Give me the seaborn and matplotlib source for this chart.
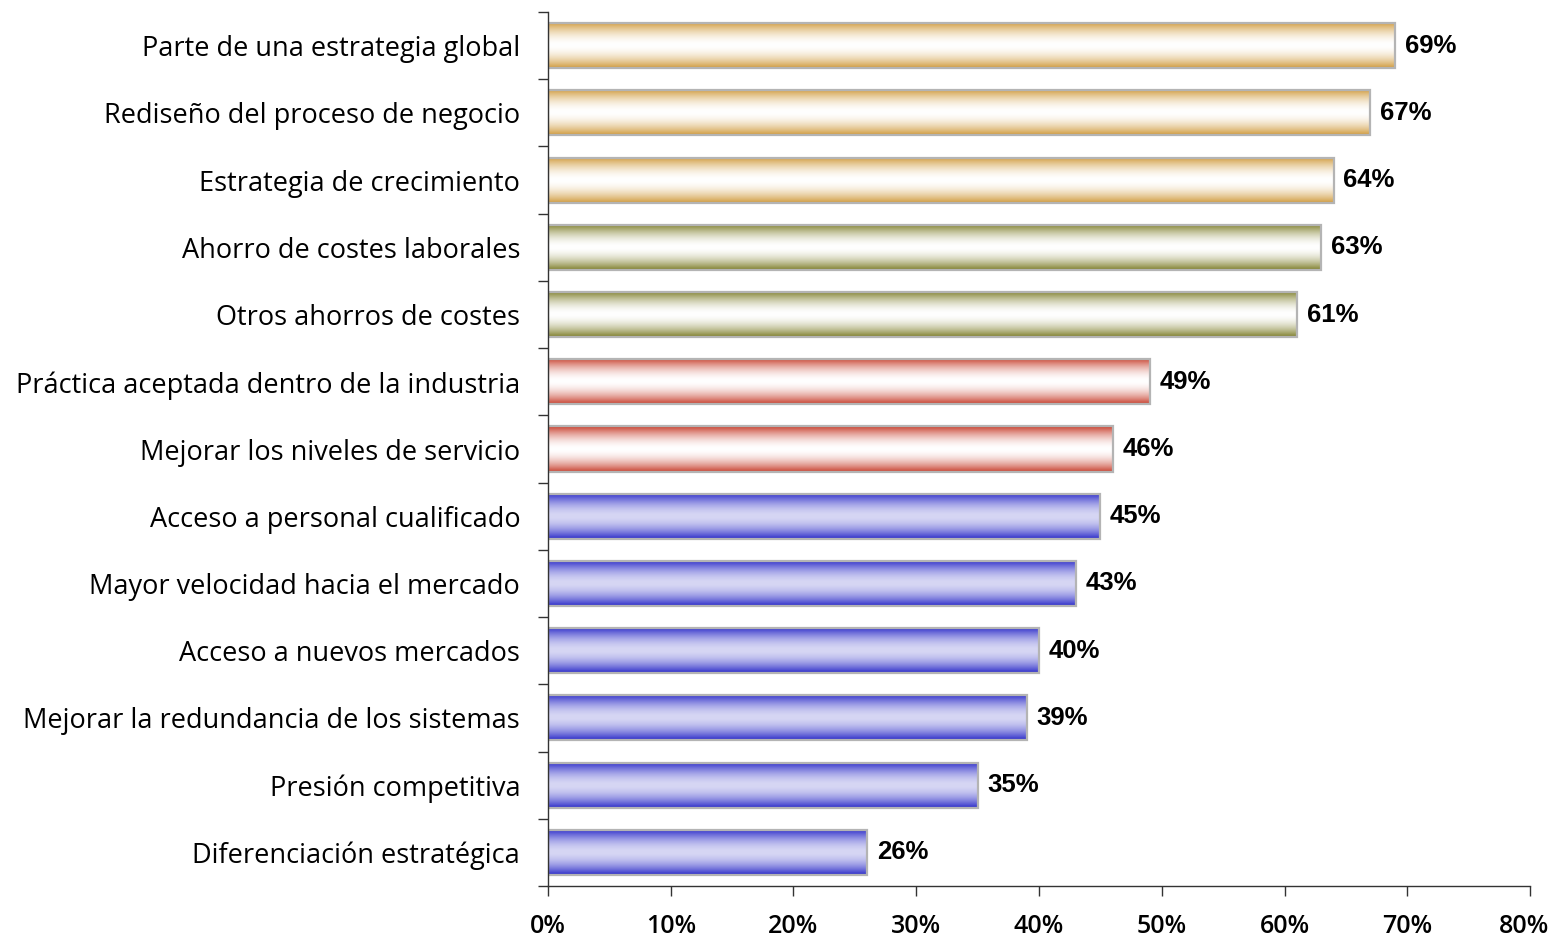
import numpy as np
import pandas as pd
import matplotlib
matplotlib.use("Agg")
import matplotlib.pyplot as plt
import matplotlib.transforms as mtransforms
import seaborn as sns
from matplotlib.colors import LinearSegmentedColormap

categories = [
    "Parte de una estrategia global",
    "Rediseño del proceso de negocio",
    "Estrategia de crecimiento",
    "Ahorro de costes laborales",
    "Otros ahorros de costes",
    "Práctica aceptada dentro de la industria",
    "Mejorar los niveles de servicio",
    "Acceso a personal cualificado",
    "Mayor velocidad hacia el mercado",
    "Acceso a nuevos mercados",
    "Mejorar la redundancia de los sistemas",
    "Presión competitiva",
    "Diferenciación estratégica",
]
values = [69, 67, 64, 63, 61, 49, 46, 45, 43, 40, 39, 35, 26]
groups = ["estrategia", "estrategia", "estrategia", "costes", "costes",
          "servicio", "servicio", "recursos", "recursos", "recursos",
          "recursos", "recursos", "recursos"]
group_order = ["estrategia", "costes", "servicio", "recursos"]
# (edge colour, centre colour) of each gradient
group_colors = {
    "estrategia": ("#D09A3C", "#FFFFFF"),
    "costes": ("#7E7E2A", "#FFFFFF"),
    "servicio": ("#C8402E", "#FFFFFF"),
    "recursos": ("#2A2AC8", "#D6D6F4"),
}
xticks = [0, 10, 20, 30, 40, 50, 60, 70, 80]

df = pd.DataFrame({"cat": categories, "val": values, "grp": groups})

sns.set_style("white")
plt.rcParams["font.family"] = ["Open Sans", "DejaVu Sans"]
plt.rcParams["text.color"] = "black"
plt.rcParams["xtick.color"] = "black"
plt.rcParams["ytick.color"] = "black"

fig = plt.figure(figsize=(15.51, 9.38), dpi=100)
ax = fig.add_axes([0.3533, 0.0554, 0.9865 - 0.3533, 0.9872 - 0.0554])

sns.barplot(data=df, x="val", y="cat", hue="grp", hue_order=group_order,
            palette={g: c[0] for g, c in group_colors.items()},
            dodge=False, width=0.67, orient="h", legend=False, ax=ax)

# vertical gradient: dark at the edges, light in the middle
t = np.linspace(-1, 1, 256)
profile = np.abs(t) ** 1.8
for grp, cont in zip(group_order, ax.containers):
    edge, centre = group_colors[grp]
    cmap = LinearSegmentedColormap.from_list(grp, [centre, edge])
    for bar in cont:
        x0, y0 = bar.get_x(), bar.get_y()
        w, h = bar.get_width(), bar.get_height()
        img = ax.imshow(profile[:, None], cmap=cmap, vmin=0, vmax=1,
                        extent=[x0, x0 + w, y0 + h, y0], aspect="auto",
                        interpolation="bilinear", zorder=bar.get_zorder())
        img.set_clip_path(bar)
        bar.set_facecolor("none")
        bar.set_edgecolor("#B4B4B4")
        bar.set_linewidth(1.6)
        bar.set_zorder(bar.get_zorder() + 0.1)
    ax.bar_label(cont, labels=[f"{v:.0f}%" for v in cont.datavalues],
                 padding=7, fontsize=18.5, fontweight="bold", color="black",
                 family=["Liberation Sans", "DejaVu Sans"])

ax.set_xlim(0, 80)
ax.set_ylim(len(categories) - 0.5, -0.5)
ax.set_xticks(xticks)
ax.set_xticklabels([f"{x}%" for x in xticks], fontsize=18, fontweight="semibold")
ax.set_yticks(range(len(categories)))
ax.set_yticklabels(categories, fontsize=19.5)
ax.set_yticks(np.arange(-0.5, len(categories), 1), minor=True)
ax.tick_params(axis="y", which="major", length=0, pad=20)
ax.tick_params(axis="y", which="minor", length=7, width=1, color="#333333",
               direction="out", left=True)
ax.tick_params(axis="x", length=7, width=1, color="#333333", direction="out",
               pad=13, bottom=True)
ax.set_xlabel("")
ax.set_ylabel("")
sns.despine(ax=ax)
for side in ["left", "bottom"]:
    ax.spines[side].set_color("#333333")
    ax.spines[side].set_linewidth(1)

# keep the last tick label inside the figure
last = ax.get_xticklabels()[-1]
last.set_transform(last.get_transform()
                   + mtransforms.ScaledTranslation(-6 / 100, 0, fig.dpi_scale_trans))

fig.savefig("out.png", dpi=100)
